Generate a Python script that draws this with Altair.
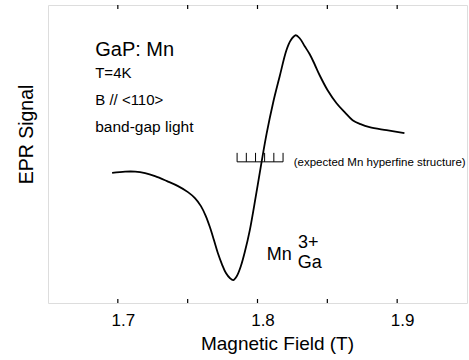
import altair as alt
import pandas as pd

# EPR derivative trace (field in tesla, signal in arbitrary units)
field = [1.6959, 1.7052, 1.7124, 1.7195, 1.7266, 1.7352, 1.7431, 1.7502, 1.7552,
         1.7595, 1.7630, 1.7659, 1.7688, 1.7716, 1.7745, 1.7774, 1.7802, 1.7826,
         1.7852, 1.7881, 1.7909, 1.7945, 1.7988, 1.8029, 1.8066, 1.8111, 1.8159,
         1.8207, 1.8238, 1.8274, 1.8302, 1.8338, 1.8374, 1.8409, 1.8445, 1.8502,
         1.8566, 1.8624, 1.8681, 1.8738, 1.8802, 1.8924, 1.9052]
signal = [-12.7, -11.5, -11.5, -13, -16, -21, -26, -32, -38,
          -46, -56, -67, -80, -93, -104, -113, -118, -120,
          -116, -106, -92, -70, -36, -2, 27, 57, 84,
          110, 120, 125, 122, 114, 106, 96, 85, 70,
          57, 48, 40, 36, 33, 30, 27]

# expected Mn hyperfine sextet
hyperfine_field = [1.7854, 1.7920, 1.7986, 1.8051, 1.8117, 1.8183]
hyperfine_base = -1.7
hyperfine_top = 7.3

x_ticks = [1.7, 1.75, 1.8, 1.85, 1.9]
x_labels = [1.7, 1.8, 1.9]

FONT = "Liberation Sans"
X_DOMAIN = [1.65, 1.95]
Y_DOMAIN = [-143, 155.3]

trace = pd.DataFrame({"field": field, "signal": signal})
hf = pd.DataFrame({"field": hyperfine_field,
                   "base": [hyperfine_base] * len(hyperfine_field),
                   "top": [hyperfine_top] * len(hyperfine_field)})
ticks = pd.DataFrame({"field": x_ticks})

xs = alt.Scale(domain=X_DOMAIN, nice=False, zero=False)
ys = alt.Scale(domain=Y_DOMAIN, nice=False, zero=False)

line = alt.Chart(trace).mark_line(color="black", strokeWidth=1.8, interpolate="catmull-rom").encode(
    x=alt.X("field:Q", scale=xs,
            axis=alt.Axis(values=x_labels, format=".1f", ticks=False, domain=False, grid=False,
                          labelFontSize=17, labelFont=FONT, labelColor="black", labelPadding=9,
                          labelOffset=5, title="Magnetic Field (T)", titleFont=FONT, titleFontSize=19,
                          titleFontWeight="normal", titleColor="black", titleX=229, titleY=46,
                          titleBaseline="alphabetic", titleAlign="center")),
    y=alt.Y("signal:Q", scale=ys,
            axis=alt.Axis(labels=False, ticks=False, domain=False, grid=False,
                          title="EPR Signal", titleFont=FONT, titleFontSize=19.5,
                          titleFontWeight="normal", titleColor="black", titleAngle=270,
                          titleX=-16, titleY=129, titleBaseline="alphabetic", titleAlign="center")),
)

# inward tick marks on bottom and top frame
bottom_ticks = alt.Chart(ticks).mark_rule(color="black", strokeWidth=1.2).encode(
    x=alt.X("field:Q", scale=xs), y=alt.value(298), y2=alt.value(294))
top_ticks = alt.Chart(ticks).mark_rule(color="black", strokeWidth=1.2).encode(
    x=alt.X("field:Q", scale=xs), y=alt.value(0), y2=alt.value(4))

# hyperfine stick diagram
hf_bar = alt.Chart(pd.DataFrame({"x0": [min(hyperfine_field)], "x1": [max(hyperfine_field)],
                                 "y": [hyperfine_base]})).mark_rule(color="black", strokeWidth=1).encode(
    x=alt.X("x0:Q", scale=xs), x2="x1:Q", y=alt.Y("y:Q", scale=ys))
hf_sticks = alt.Chart(hf).mark_rule(color="black", strokeWidth=1).encode(
    x=alt.X("field:Q", scale=xs), y=alt.Y("base:Q", scale=ys), y2="top:Q")

# annotations
notes = pd.DataFrame({
    "field": [1.6838, 1.6838, 1.6838, 1.6838, 1.8259, 1.8066, 1.8290, 1.8288],
    "signal": [104, 82, 55.5, 28.5, -6, -100, -88, -108],
    "label": ["GaP: Mn", "T=4K", "B // <110>", "band-gap light",
              "(expected Mn hyperfine structure)", "Mn", "3+", "Ga"],
    "size": [20, 15, 15, 15.5, 11.5, 18, 18, 18],
})
text = alt.Chart(notes).mark_text(align="left", baseline="alphabetic", font=FONT, color="black").encode(
    x=alt.X("field:Q", scale=xs), y=alt.Y("signal:Q", scale=ys), text="label:N",
    size=alt.Size("size:Q", scale=None, legend=None))

chart = alt.layer(line, bottom_ticks, top_ticks, hf_bar, hf_sticks, text).properties(
    width=419, height=298,
    autosize=alt.AutoSizeParams(type="none"),
    padding={"left": 48, "top": 5, "right": 2, "bottom": 57},
).configure_view(stroke="black", strokeWidth=1.6).configure(background="white")

chart.save("out.html", embed_options={"renderer": "svg", "actions": False})
